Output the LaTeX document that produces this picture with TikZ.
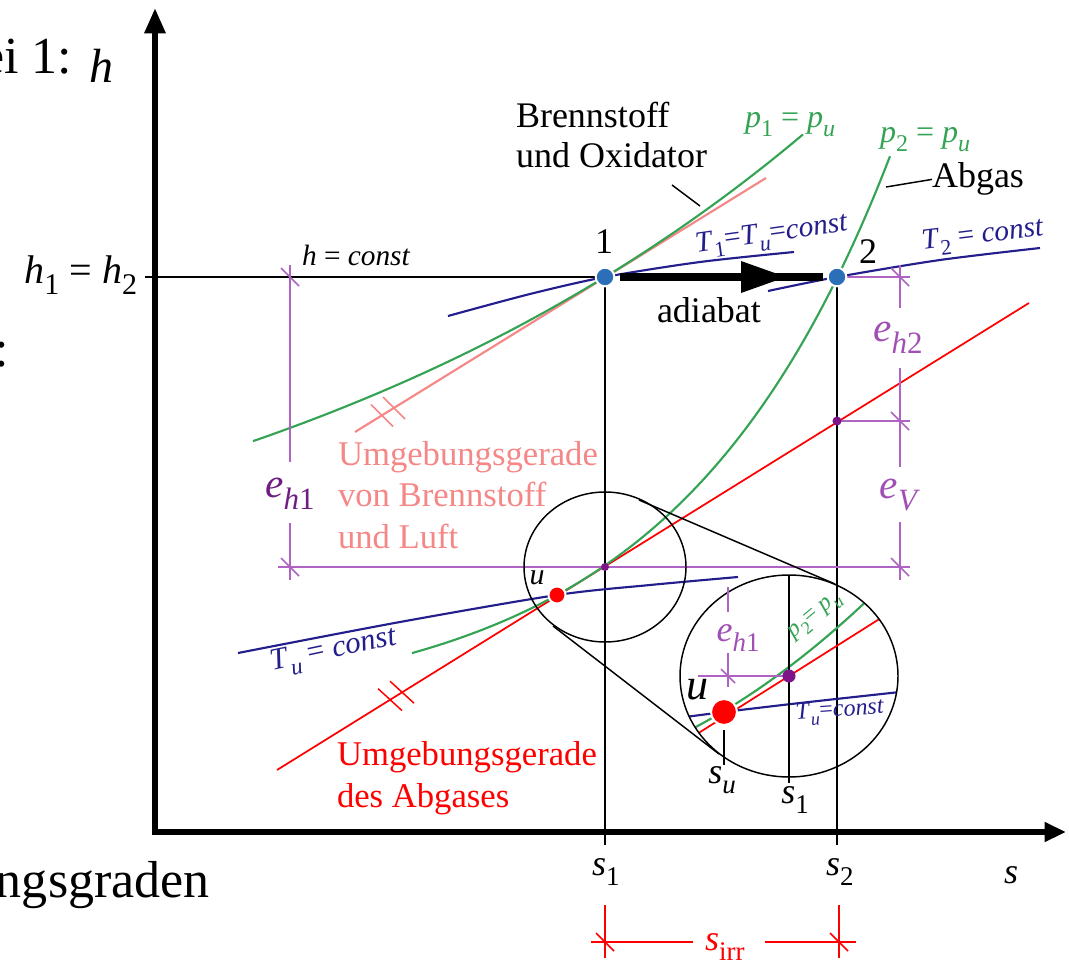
\documentclass[tikz,border=0pt]{standalone}
\usepackage{fontspec}
\setmainfont{Liberation Serif}
\usepackage{graphicx}
\usetikzlibrary{arrows.meta,calc}
\definecolor{cgreen}{RGB}{52,163,84}
\definecolor{cpink}{RGB}{245,135,135}
\definecolor{cred}{RGB}{255,0,0}
\definecolor{cblue}{RGB}{35,30,140}
\definecolor{cdim}{RGB}{175,100,195}
\definecolor{cdimtxt}{RGB}{160,80,180}
\definecolor{cdimdark}{RGB}{110,30,130}
\definecolor{cdot}{RGB}{125,20,135}
\definecolor{cpt}{RGB}{45,110,185}
\newcommand\fsz[2]{\fontsize{#1}{#2}\selectfont}
\newcommand\lo[1]{\raisebox{-0.28em}{\scalebox{0.75}{#1}}}
\newcommand\vi[1]{\textit{#1}}
\begin{document}
\begin{tikzpicture}[x=0.75pt,y=-0.75pt,
  every node/.style={inner sep=0pt,outer sep=0pt},
  axisln/.style={line width=4.5pt,line join=miter},
  thinln/.style={line width=1.1pt},
  curveln/.style={line width=1.6pt},
  dimln/.style={cdim,line width=1.1pt},
  irrln/.style={cred,line width=1.1pt},
  bigtxt/.style={font=\fsz{39pt}{42pt}},
  maintxt/.style={font=\fsz{27pt}{30pt}},
  smalltxt/.style={font=\fsz{22pt}{24pt}},
  etxt/.style={font=\fsz{31pt}{34pt}},
  tinytxt/.style={font=\fsz{18pt}{20pt}},
  ptdot/.style={fill=cpt,draw=white,line width=1.5pt},
  reddot/.style={fill=cred,draw=white,line width=1.5pt},
  purpdot/.style={fill=cdot}]
\useasboundingbox (0,0) rectangle (1069,962);

% ---------- key coordinates
\coordinate (P1) at (605,277);
\coordinate (P2) at (837,277);
\coordinate (U) at (557,595);
\coordinate (D1) at (605,567);
\coordinate (D2) at (837,421);
\coordinate (MU) at (724,712);
\coordinate (M1) at (789,676);
\coordinate (O) at (155,832);
\coordinate (Ytip) at (155,8);
\coordinate (Xtip) at (1066,832);

% ---------- cropped slide text
\node[bigtxt,anchor=base east] (tl) at (72,74) {ei 1:};
\node[bigtxt,anchor=base west] (tc) at (-5,366) {:};
\node[bigtxt,anchor=base west] (tb) at (-4,897) {ngsgraden};

% ---------- axes
\draw[axisln,{Triangle[length=19pt,width=15pt]}-{Triangle[length=16pt,width=14pt]}] (Ytip) -- (O) -- (Xtip);
\node[font=\fsz{36pt}{38pt},anchor=base] (hax) at (101,83) {\vi{h}};
\node[maintxt,anchor=base west] (sax) at (1004,883) {\vi{s}};

% ---------- thin black reference lines
\draw[thinln] (145,277) -- (P1);
\draw[thinln] (P1) -- (605,845);
\draw[thinln] (P2) -- (837,845);
\node[font=\fsz{30pt}{32pt},anchor=base east] (h12) at (137,283) {\vi{h}\lo{1} = \vi{h}\lo{2}};
\node[smalltxt,anchor=base west] (hc) at (302,266) {\vi{h} = \vi{const}};
\node[maintxt,anchor=base west] (s1) at (592,875) {\vi{s}\lo{1}};
\node[maintxt,anchor=base west] (s2) at (826,875) {\vi{s}\lo{2}};

% ---------- pink environment line of fuel+air
\draw[cpink,curveln] (355,432) -- (766,178);
\foreach \cx/\cy in {382/415.5,394/408}
  \draw[cpink,line width=1.1pt] (\cx-11,\cy-11) -- (\cx+11,\cy+11);
\node[cpink,font=\fsz{26pt}{31pt},anchor=base west,align=left] (pinktxt) at (338,548)
  {Umgebungsgerade\\von Brennstoff\\und Luft};

% ---------- red environment line of exhaust
\draw[cred,line width=1.3pt] (277,770) -- (1029,303);
\foreach \cx/\cy in {390/699.6,402/692.2}
  \draw[cred,line width=1.1pt] (\cx-12,\cy-11) -- (\cx+12,\cy+11);
\node[cred,font=\fsz{26pt}{31.5pt},anchor=base west,align=left] (redtxt) at (337,807)
  {Umgebungsgerade\\des Abgases};

% ---------- isobars (green)
\draw[cgreen,curveln] plot[domain=253:803,samples=80] (\x,{656-379*exp((\x-605)/620)});
\draw[cgreen,curveln] plot[domain=412:890,samples=100] (\x,{713.4-118.4*exp((\x-557)/215)});
\node[cgreen,font=\fsz{24pt}{26pt},anchor=base west] (p1l) at (745,128) {\vi{p}\lo{1} = \vi{p}\lo{\vi{u}}};
\node[cgreen,font=\fsz{24pt}{26pt},anchor=base west] (p2l) at (880,143) {\vi{p}\lo{2} = \vi{p}\lo{\vi{u}}};

% ---------- isotherms (blue)
\draw[cblue,curveln] plot[smooth] coordinates {(448,316) (530,294) (605,277) (700,262) (794,252)};
\draw[cblue,curveln] plot[smooth] coordinates {(768,291) (837,277) (940,260) (1040,248)};
\draw[cblue,curveln] plot[smooth] coordinates {(238,653) (400,622) (557,595) (650,585) (738,577)};
\node[cblue,smalltxt,rotate=8] (t1l) at (772,236) {\vi{T}\lo{1}=\vi{T}\lo{\vi{u}}=\vi{const}};
\node[cblue,smalltxt,rotate=7] (t2l) at (983,237) {\vi{T}\lo{2} = \vi{const}};
\node[cblue,font=\fsz{23pt}{25pt},rotate=12] (tul) at (334,652) {\vi{T}\lo{\vi{u}} = \vi{const}};

% ---------- labels with leaders
\node[maintxt,anchor=base west,align=left] (bren) at (516,168) {Brennstoff\\und Oxidator};
\coordinate (bl1) at (672,185);
\coordinate (bl2) at (700,206);
\draw[thinln] (bl1) -- (bl2);
\node[maintxt,anchor=base west] (abg) at (932,188) {Abgas};
\coordinate (al1) at (886,187);
\draw[thinln] (al1) -- (abg.west);

% ---------- dimension lines (purple)
\draw[dimln] (278,567) -- (910,567);
\draw[dimln] ($(P2)+(9,0)$) -- (910,277);
\draw[dimln] (D2) -- (910,421);
\draw[dimln] (290,265) -- (290,462);
\draw[dimln] (290,523) -- (290,580);
\draw[dimln] (900,265) -- (900,308);
\draw[dimln] (900,368) -- (900,467);
\draw[dimln] (900,522) -- (900,580);
\foreach \px/\py in {290/277,290/567,900/277,900/421,900/567}
  \draw[dimln] (\px-9,\py-9) -- (\px+9,\py+9);
\node[cdimdark,etxt] (eh1) at (290,494) {\vi{e}\lo{\vi{h}1}};
\node[cdimtxt,etxt] (eh2) at (898,338) {\vi{e}\lo{\vi{h}2}};
\node[cdimtxt,etxt] (ev) at (900,495) {\vi{e}\lo{\vi{V}}};

% ---------- adiabatic arrow
\draw[line width=5.5pt] (620,277) -- (823,277);
\fill (741,261) -- (786,277) -- (741,293) -- cycle;
\node[maintxt,anchor=base west] (adia) at (657,322) {adiabat};

% ---------- s_irr
\draw[irrln] (605,905) -- (605,958);
\draw[irrln] (839,905) -- (839,958);
\draw[irrln] (591,942) -- (693,942);
\draw[irrln] (765,942) -- (856,942);
\foreach \px/\py in {605/942,839/942}
  \draw[irrln] (\px-9,\py-9) -- (\px+9,\py+9);
\node[cred,maintxt,anchor=base west] (sirr) at (705,950) {\vi{s}\lo{irr}};

% ---------- small magnifier and connecting tangents
\draw[thinln] (D1) ellipse [x radius=60.75pt,y radius=56.25pt];
\coordinate (ta1) at (639,500);
\coordinate (ta2) at (835,584);
\coordinate (tb1) at (553,626);
\coordinate (tb2) at (719,754);
\draw[thinln] (ta1) -- (ta2);
\draw[thinln] (tb1) -- (tb2);

% ---------- large magnified view
\begin{scope}
\clip (M1) ellipse [x radius=81.75pt,y radius=75.75pt];
\fill[white] (M1) ellipse [x radius=81.75pt,y radius=75.75pt];
\draw[thinln] (837,560) -- (837,800);
\draw[cblue,curveln] plot[smooth] coordinates {(670,719) (724,712) (800,703) (900,692)};
\draw[cred,line width=1.3pt] (670,751) -- (900,606);
\draw[cgreen,curveln] plot[domain=670:900,samples=40] (\x,{711-0.6*(\x-724)-0.0012*(\x-724)*(\x-724)});
\end{scope}
\draw[thinln] (M1) ellipse [x radius=81.75pt,y radius=75.75pt];
\draw[thinln] (789,575) -- (789,783);
\draw[thinln] (724,730) -- (724,765);
\draw[dimln] (698,676) -- (M1);
\draw[dimln] (728,587) -- (728,612);
\draw[dimln] (728,653) -- (728,687);
\draw[dimln] (721,669) -- (735,683);
\node[cdimtxt,font=\fsz{27pt}{29pt}] (eh1m) at (738,638) {\vi{e}\lo{\vi{h}1}};
\node[font=\fsz{33pt}{35pt}] (um) at (697,690) {\vi{u}};
\node[maintxt] (sum) at (722,780) {\vi{s}\lo{\vi{u}}};
\node[maintxt] (s1m) at (795,800) {\vi{s}\lo{1}};
\node[cblue,tinytxt,rotate=4] (tum) at (840,712) {\vi{T}\lo{\vi{u}}=\vi{const}};
\node[cgreen,tinytxt,rotate=40] (p2m) at (816,617) {\vi{p}\lo{2}= \vi{p}\lo{\vi{u}}};
\filldraw[reddot] (MU) circle (9.75pt);
\fill[purpdot] (M1) circle (4.9pt);

% ---------- state points
\fill[purpdot] (D1) circle (3pt);
\fill[purpdot] (D2) circle (3.4pt);
\filldraw[reddot] (U) circle (6.4pt);
\node[font=\fsz{22.5pt}{24pt}] (ul) at (537,578) {\vi{u}};
\filldraw[ptdot] (P1) circle (7pt);
\filldraw[ptdot] (P2) circle (7pt);
\node[maintxt,anchor=base] (n1) at (604,253) {1};
\node[maintxt,anchor=base] (n2) at (868,263) {2};
\end{tikzpicture}
\end{document}
